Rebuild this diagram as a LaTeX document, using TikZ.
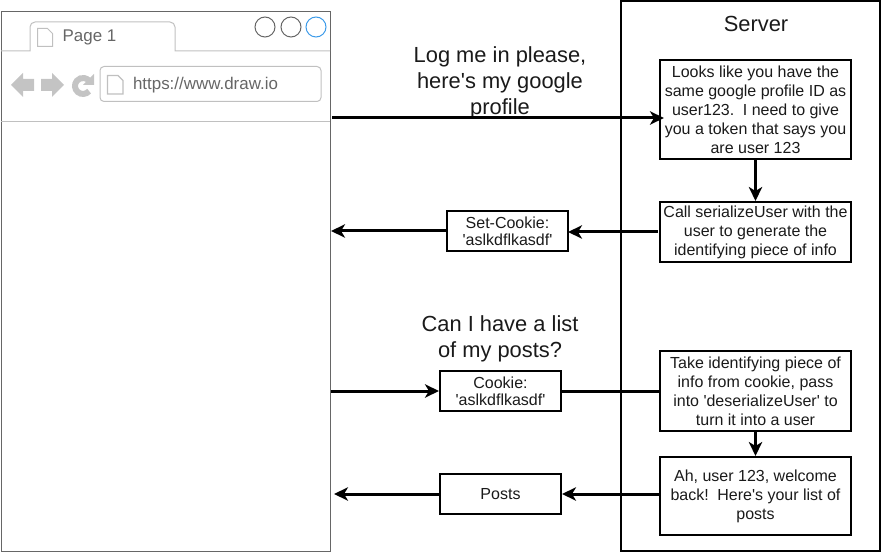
\documentclass[tikz,border=0pt]{standalone}
\usepackage{fontspec}
\newfontfamily\drawfont{Liberation Sans}
\usetikzlibrary{arrows.meta}
\definecolor{frameline}{HTML}{666666}
\definecolor{lightline}{HTML}{C0C0C0}
\definecolor{icongray}{HTML}{C4C4C4}
\definecolor{tabtext}{HTML}{666666}
\definecolor{blueline}{HTML}{3D9BE9}
\definecolor{ink}{HTML}{1A1A1A}
\begin{document}
\begin{tikzpicture}[x=0.75pt,y=-0.75pt]
\tikzset{box/.style = {shape=rectangle,draw,line width=1.5pt,minimum width=143.25pt,align=center,
		font=\drawfont\fontsize{12}{14.3}\selectfont,inner sep=0pt,text=ink}}
\tikzset{msg/.style = {shape=rectangle,draw,line width=1.5pt,minimum width=90.75pt,minimum height=30pt,align=center,
		font=\drawfont\fontsize{12}{13}\selectfont,inner sep=0pt,text=ink}}
\tikzset{say/.style = {align=center,font=\drawfont\fontsize{16.4}{19.7}\selectfont,inner sep=0pt,text=ink}}
\tikzset{edge/.style = {-{Stealth[length=10.5pt,width=10pt,inset=3pt]},line width=2.25pt}}
\tikzset{plain/.style = {line width=2.25pt}}
\tikzset{thin gray/.style = {draw=lightline,line width=0.75pt}}
\tikzset{dot/.style = {shape=circle,draw=frameline,line width=0.75pt,minimum size=15pt,inner sep=0pt}}
\useasboundingbox (0,0) rectangle (882,552);
% browser
\node[draw=frameline,line width=0.75pt,minimum width=246.75pt,minimum height=404.25pt,inner sep=0pt] (browser) at (165.5,281.5) {};
\draw[thin gray] (1,51) -- (30,51) -- (30,27) arc (180:270:5) -- (170,22) arc (270:360:5) -- (175,51) -- (330,51);
\draw[thin gray] (1,121.5) -- (330,121.5);
\node[thin gray,shape=rectangle,rounded corners=3pt,minimum width=165.75pt,minimum height=26.25pt,inner sep=0pt] (url) at (210.5,84) {};
\node[dot] (d1) at (265,27) {};
\node[dot] (d2) at (291,27) {};
\node[dot,draw=blueline] (d3) at (316,27) {};
\draw[thin gray,fill=white] (37.5,28.5) -- (47.5,28.5) -- (52.5,33.5) -- (52.5,46.5) -- (37.5,46.5) -- cycle;
\draw[thin gray,fill=white,line width=1pt] (107.5,75.5) -- (118,75.5) -- (123,80.5) -- (123,94) -- (107.5,94) -- cycle;
\fill[icongray] (11,85) -- (23,73) -- (23,79) -- (34,79) -- (34,91) -- (23,91) -- (23,97) -- cycle;
\fill[icongray] (64,85) -- (52,73) -- (52,79) -- (41,79) -- (41,91) -- (52,91) -- (52,97) -- cycle;
\draw[icongray,line width=4.5pt] (89.1,91.1) arc (40:320:8);
\fill[icongray] (83,85) -- (94,85) -- (94,74) -- cycle;
\node[inner sep=0pt,text=tabtext,font=\drawfont\fontsize{12.7}{14}\selectfont] (tab) at (89.5,37) {Page 1};
\node[inner sep=0pt,text=tabtext,font=\drawfont\fontsize{12.7}{14}\selectfont] (addr) at (205.5,85) {https://www.draw.io};
% server
\node[draw,line width=1.5pt,minimum width=194.25pt,minimum height=412.5pt,inner sep=0pt] (server) at (750.5,276) {};
\node[say] (title) at (756,24) {Server};
% steps
\node[box,minimum height=74.25pt] (profile) at (755.5,109.5) {Looks like you have the\\same google profile ID as\\user123.\, I need to give\\you a token that says you\\are user 123};
\node[box,minimum height=45pt] (serialize) at (755.5,232) {Call serializeUser with the\\user to generate the\\identifying piece of info};
\node[box,minimum height=60pt] (deserialize) at (755.5,391) {Take identifying piece of\\info from cookie, pass\\into 'deserializeUser' to\\turn it into a user};
\node[box,minimum height=58.5pt] (welcome) at (755.5,496) {Ah, user 123, welcome\\back!\, Here's your list of\\posts};
% messages
\node[msg] (setcookie) at (507.5,231) {Set-Cookie:\\'aslkdflkasdf'};
\node[msg] (cookie) at (500.5,391) {Cookie:\\'aslkdflkasdf'};
\node[msg] (posts) at (500.5,494) {Posts};
\node[say] (login) at (500,83) {Log me in please,\\here's my google\\profile};
\node[say] (ask) at (500,338.5) {Can I have a list\\of my posts?};
% free ends
\coordinate (loginstart) at (332,118);
\coordinate (loginend) at (664,118);
\coordinate (setend) at (331,231);
\coordinate (cookiestart) at (331,391);
\coordinate (postsend) at (334,494);
\coordinate (serializestart) at (658,232);
\coordinate (setcookieend) at (568,232);
\coordinate (welcomestart) at (660,494);
%edges
\draw[edge] (loginstart) to (loginend);
\draw[edge] (profile) to (serialize);
\draw[edge] (serializestart) to (setcookieend);
\draw[edge] (setcookie) to (setend);
\draw[edge] (cookiestart) to (cookie);
\draw[plain] (cookie) to (deserialize);
\draw[edge] (deserialize) to (welcome);
\draw[edge] (welcomestart) to (posts);
\draw[edge] (posts) to (postsend);
\end{tikzpicture}
\end{document}
